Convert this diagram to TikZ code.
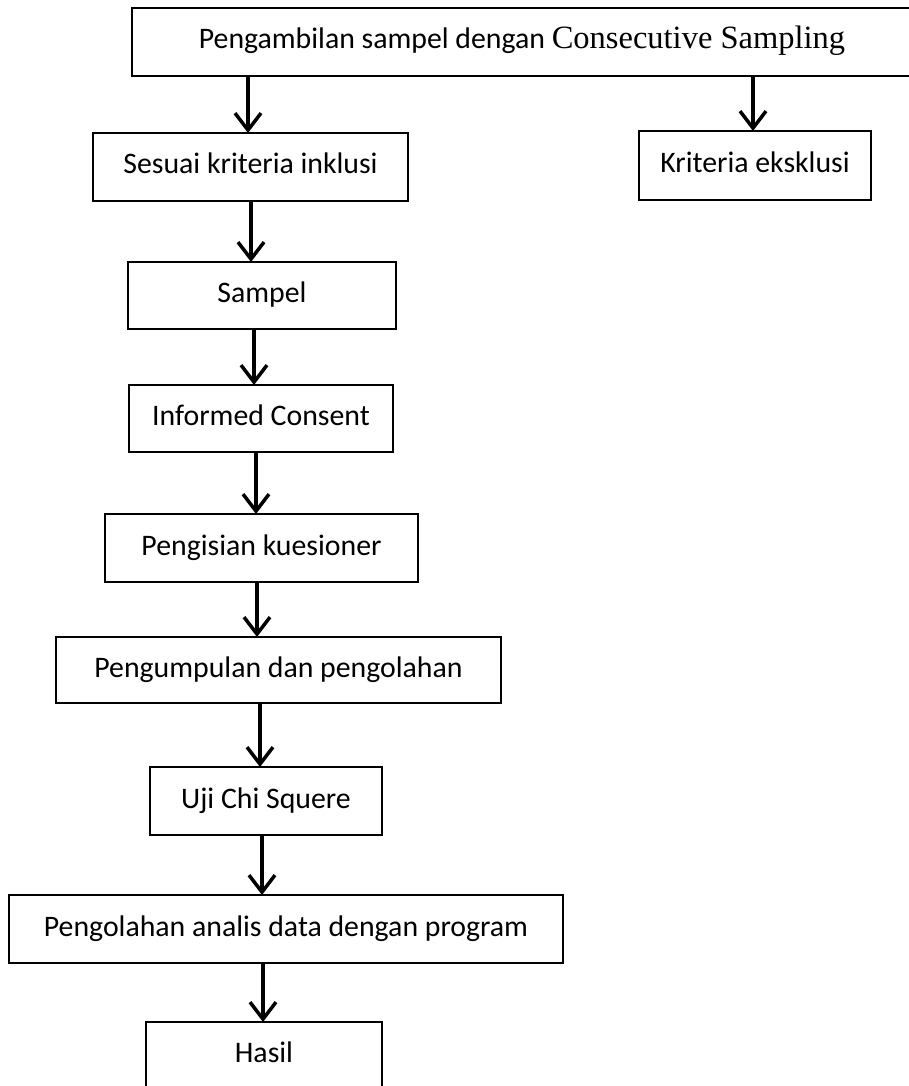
\documentclass[tikz,border=0pt]{standalone}
\usepackage{fontspec}
\setmainfont{Carlito}
\newfontfamily\tnr{Liberation Serif}
\usetikzlibrary{arrows.meta}
\begin{document}
\begin{tikzpicture}[x=1pt,y=-1pt,
  box/.style={draw=black, line width=2pt, rectangle, inner sep=0pt, outer sep=0pt,
    font=\fontsize{29.8}{36}\selectfont, text height=22pt, text depth=8pt, align=center},
  arr/.style={line width=3.5pt, -{Straight Barb[length=17pt,width=26pt,line width=3.5pt]}}]
\useasboundingbox (0,0) rectangle (909,1086);
\fill[white] (0,0) rectangle (909,1086);
% boxes
\node[box, minimum width=780pt, minimum height=68pt] (top) at (522,42)
  {Pengambilan sampel dengan {\tnr\fontsize{32.5}{36}\selectfont Consecutive Sampling}};
\node[box, minimum width=315pt, minimum height=68pt] (sesuai) at (250.5,167) {Sesuai kriteria inklusi};
\node[box, minimum width=232pt, minimum height=69pt] (kriteria) at (755,165.5) {Kriteria eksklusi};
\node[box, minimum width=268pt, minimum height=67pt] (sampel) at (262,295.5) {Sampel};
\node[box, minimum width=264pt, minimum height=67pt] (informed) at (261,418.5) {Informed Consent};
\node[box, minimum width=313pt, minimum height=68pt] (pengisian) at (261.5,548) {Pengisian kuesioner};
\node[box, minimum width=445pt, minimum height=66pt] (pengumpulan) at (278.5,670) {Pengumpulan dan pengolahan};
\node[box, minimum width=232pt, minimum height=68pt] (uji) at (266,801) {Uji Chi Squere};
\node[box, minimum width=554pt, minimum height=68pt] (pengolahan) at (286,929) {Pengolahan analis data dengan program};
\node[box, minimum width=236pt, minimum height=66pt] (hasil) at (264,1055) {Hasil};
% arrow x positions
\coordinate (x1) at (248,0);
\coordinate (x2) at (753,0);
\coordinate (x3) at (251,0);
\coordinate (x4) at (254,0);
\coordinate (x5) at (256,0);
\coordinate (x6) at (257,0);
\coordinate (x7) at (260,0);
\coordinate (x8) at (262,0);
\coordinate (x9) at (263,0);
% connectors
\draw[arr] (top.south -| x1) -- (sesuai.north -| x1);
\draw[arr] (top.south -| x2) -- (kriteria.north -| x2);
\draw[arr] (sesuai.south -| x3) -- (sampel.north -| x3);
\draw[arr] (sampel.south -| x4) -- (informed.north -| x4);
\draw[arr] (informed.south -| x5) -- (pengisian.north -| x5);
\draw[arr] (pengisian.south -| x6) -- (pengumpulan.north -| x6);
\draw[arr] (pengumpulan.south -| x7) -- (uji.north -| x7);
\draw[arr] (uji.south -| x8) -- (pengolahan.north -| x8);
\draw[arr] (pengolahan.south -| x9) -- (hasil.north -| x9);
\end{tikzpicture}
\end{document}
